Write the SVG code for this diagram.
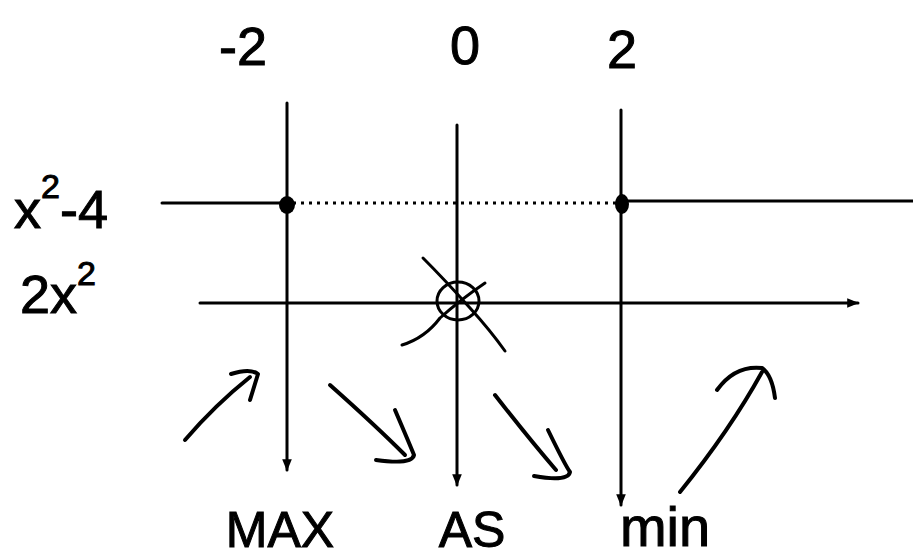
<svg xmlns="http://www.w3.org/2000/svg" width="913" height="560" viewBox="0 0 913 560">
<defs>
<style>
.ln{stroke:#000;stroke-width:3;fill:none;stroke-linecap:round}
.hd{stroke:#000;stroke-width:4;fill:none;stroke-linecap:round;stroke-linejoin:round}
.dot{stroke:#000;stroke-width:3;fill:none;stroke-dasharray:3 5}
.t{font-family:"Liberation Sans",Arial,sans-serif;fill:#000;stroke:#000;stroke-width:1}
</style>
<marker id="tip" viewBox="0 0 10 10" refX="9" refY="5" markerWidth="4" markerHeight="4" orient="auto">
<path d="M0,1 L10,5 L0,9 z" fill="#000"/>
</marker>
</defs>
<rect width="913" height="560" fill="#fff"/>
<g id="labels-top">
<text class="t" x="243" y="65" font-size="54" text-anchor="middle">-2</text>
<text class="t" x="465" y="64" font-size="54" text-anchor="middle">0</text>
<text class="t" x="622" y="68" font-size="54" text-anchor="middle">2</text>
</g>
<g id="labels-left">
<text class="t" x="14" y="228" font-size="54">x<tspan font-size="34" dy="-30">2</tspan><tspan dy="30">-4</tspan></text>
<text class="t" x="20" y="313" font-size="54">2x<tspan font-size="34" dy="-28">2</tspan></text>
</g>
<g id="labels-bottom">
<text class="t" x="280" y="547" font-size="50" text-anchor="middle">MAX</text>
<text class="t" x="472" y="547" font-size="50" text-anchor="middle">AS</text>
<text class="t" x="665" y="546" font-size="56" text-anchor="middle">min</text>
</g>
<g id="connectors">
<line class="ln" x1="287" y1="103" x2="287" y2="470" marker-end="url(#tip)"/>
<line class="ln" x1="457" y1="125" x2="457" y2="485" marker-end="url(#tip)"/>
<line class="ln" x1="621" y1="110" x2="621" y2="505" marker-end="url(#tip)"/>
<line class="ln" x1="162" y1="203" x2="287" y2="203"/>
<line class="dot" x1="293" y1="203" x2="616" y2="203"/>
<line class="ln" x1="621" y1="201" x2="913" y2="201"/>
<line class="ln" x1="200" y1="303" x2="858" y2="303" marker-end="url(#tip)"/>
<path class="hd" d="M185,440 Q215,405 250,377"/>
<path class="hd" d="M231,374 Q250,368 258,374 L250,400"/>
<path class="hd" d="M330,385 Q375,425 405,455"/>
<path class="hd" d="M395,410 Q410,445 414,455 Q412,465 376,460"/>
<path class="hd" d="M495,395 Q530,440 556,470"/>
<path class="hd" d="M548,430 Q565,465 570,472 Q568,482 534,476"/>
<path class="hd" d="M680,492 Q730,430 762,372"/>
<path class="hd" d="M717,390 Q735,365 762,368 Q772,375 775,398"/>
</g>
<g id="point-m2"><ellipse cx="287" cy="205" rx="8" ry="9" fill="#000"/></g>
<g id="point-2"><ellipse cx="622" cy="204" rx="7" ry="10" fill="#000"/></g>
<g id="point-0">
<ellipse class="ln" cx="458" cy="301" rx="21" ry="19"/>
<path class="ln" d="M423,258 Q445,280 470,308 Q490,330 505,351"/>
<path class="ln" d="M402,345 Q425,338 440,318 Q460,300 485,283"/>
</g>
</svg>
